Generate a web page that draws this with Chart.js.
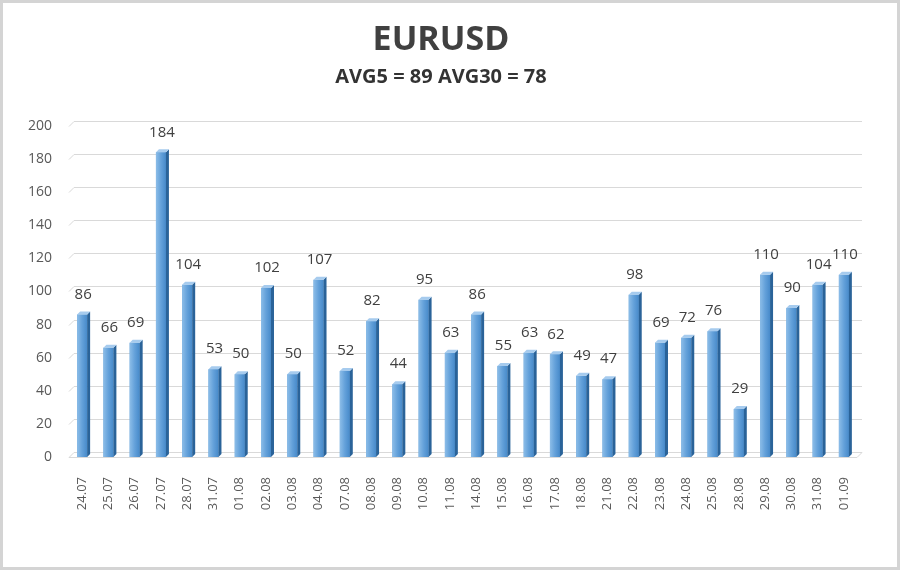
<!DOCTYPE html>
<html>
<head>
<meta charset="utf-8">
<script src="https://cdn.jsdelivr.net/npm/chart.js@4.4.0/dist/chart.umd.min.js"></script>
<style>
  html, body { margin: 0; padding: 0; background: #ffffff; }
  #wrap { width: 900px; height: 570px; position: relative; }
  canvas { display: block; }
</style>
</head>
<body>
<div id="wrap"><canvas id="c" width="900" height="570"></canvas></div>
<script>
const categories = ["24.07","25.07","26.07","27.07","28.07","31.07","01.08","02.08","03.08","04.08",
  "07.08","08.08","09.08","10.08","11.08","14.08","15.08","16.08","17.08","18.08",
  "21.08","22.08","23.08","24.08","25.08","28.08","29.08","30.08","31.08","01.09"];
const values = [86,66,69,184,104,53,50,102,50,107,
  52,82,44,95,63,86,55,63,62,49,
  47,98,69,72,76,29,110,90,104,110];
const titleText = "EURUSD";
const subtitleText = "AVG5 = 89 AVG30 = 78";
const yMin = 0, yMax = 200, yStep = 20;

const FONT = "'Open Sans', 'DejaVu Sans', sans-serif";
const DEPTH = 5;   // back-wall offset for gridlines
const BD = 3;      // bar depth

const framePlugin = {
  id: 'frame',
  beforeDraw(chart) {
    const ctx = chart.ctx;
    ctx.save();
    ctx.fillStyle = '#ffffff';
    ctx.fillRect(0, 0, chart.width, chart.height);
    ctx.strokeStyle = '#d4d4d4';
    ctx.lineWidth = 3;
    ctx.strokeRect(1.5, 1.5, chart.width - 3, chart.height - 3);
    ctx.restore();
  }
};

const gridPlugin = {
  id: 'grid3d',
  beforeDatasetsDraw(chart) {
    const ctx = chart.ctx;
    const ys = chart.scales.y;
    const area = chart.chartArea;
    ctx.save();
    ctx.strokeStyle = '#d9d9d9';
    ctx.lineWidth = 1;
    ys.ticks.forEach(t => {
      const yy = Math.round(ys.getPixelForValue(t.value)) + 0.5;
      ctx.beginPath();
      ctx.moveTo(area.left, yy);
      ctx.lineTo(area.left + DEPTH, yy - DEPTH);
      ctx.lineTo(area.right + DEPTH, yy - DEPTH);
      ctx.stroke();
      if (t.value === yMin) {
        ctx.beginPath();
        ctx.moveTo(area.left, yy);
        ctx.lineTo(area.right, yy);
        ctx.lineTo(area.right + DEPTH, yy - DEPTH);
        ctx.stroke();
      }
    });
    ctx.restore();
  }
};

const barsPlugin = {
  id: 'bars3d',
  afterDatasetsDraw(chart) {
    const ctx = chart.ctx;
    const meta = chart.getDatasetMeta(0);
    ctx.save();
    meta.data.forEach((el, i) => {
      const p = el.getProps(['x', 'y', 'base', 'width'], true);
      const left = p.x - p.width / 2, right = p.x + p.width / 2;
      const top = p.y, base = p.base;
      const g = ctx.createLinearGradient(left, 0, right, 0);
      g.addColorStop(0, '#8cbde8');
      g.addColorStop(0.5, '#64a1da');
      g.addColorStop(1, '#478aca');
      ctx.fillStyle = g;
      ctx.fillRect(left, top, right - left, base - top);
      // side face
      ctx.fillStyle = '#2a6399';
      ctx.beginPath();
      ctx.moveTo(right, top);
      ctx.lineTo(right + BD, top - BD);
      ctx.lineTo(right + BD, base - BD);
      ctx.lineTo(right, base);
      ctx.closePath();
      ctx.fill();
      // top face
      ctx.fillStyle = '#a6cbee';
      ctx.beginPath();
      ctx.moveTo(left, top);
      ctx.lineTo(left + BD, top - BD);
      ctx.lineTo(right + BD, top - BD);
      ctx.lineTo(right, top);
      ctx.closePath();
      ctx.fill();
      // data label
      ctx.fillStyle = '#404040';
      ctx.font = "15px " + FONT;
      ctx.textAlign = 'center';
      ctx.textBaseline = 'middle';
      ctx.fillText(String(values[i]), p.x + 1, top - 20);
    });
    ctx.restore();
  }
};

new Chart(document.getElementById('c'), {
  type: 'bar',
  data: {
    labels: categories,
    datasets: [{
      data: values,
      backgroundColor: '#5b9bd5',
      borderWidth: 0,
      barPercentage: 0.38,
      categoryPercentage: 1.0
    }]
  },
  options: {
    responsive: false,
    animation: false,
    devicePixelRatio: 1,
    layout: { padding: { left: 25, right: 43, top: 0, bottom: 53 } },
    plugins: {
      legend: { display: false },
      tooltip: { enabled: false },
      title: {
        display: true,
        text: titleText,
        color: '#404040',
        font: { family: FONT, size: 34, weight: 'bold', lineHeight: 1.2 },
        padding: { top: 20, bottom: 0 }
      },
      subtitle: {
        display: true,
        text: subtitleText,
        color: '#333333',
        font: { family: FONT, size: 20, weight: 'bold', lineHeight: 1.2 },
        padding: { top: 4, bottom: 37 }
      }
    },
    scales: {
      x: {
        grid: { display: false, drawTicks: false },
        border: { display: false },
        ticks: {
          color: '#595959',
          font: { family: FONT, size: 13 },
          minRotation: 90,
          maxRotation: 90,
          padding: 20,
          autoSkip: false
        },
        afterFit(scale) { scale.height = 60; }
      },
      y: {
        min: yMin,
        max: yMax,
        grid: { display: false, drawTicks: false },
        border: { display: false },
        ticks: {
          stepSize: yStep,
          color: '#595959',
          font: { family: FONT, size: 14 },
          padding: 17
        },
        afterFit(scale) { scale.width = 44; }
      }
    }
  },
  plugins: [framePlugin, gridPlugin, barsPlugin]
});
</script>
</body>
</html>
